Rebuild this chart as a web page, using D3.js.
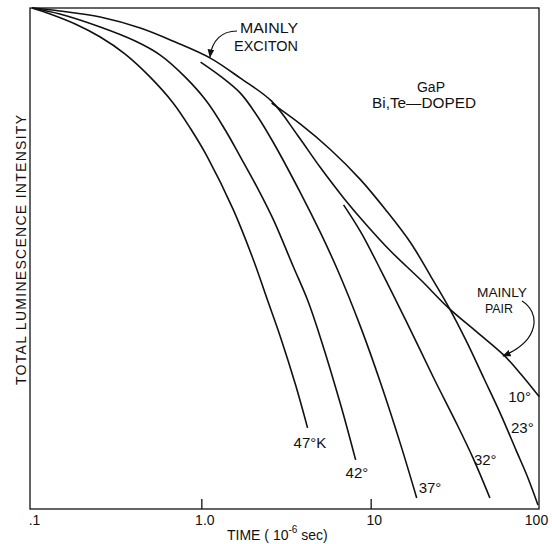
<!DOCTYPE html>
<html>
<head>
<meta charset="utf-8">
<script src="https://cdn.jsdelivr.net/npm/d3@7"></script>
<style>
  html, body { margin: 0; padding: 0; background: #fff; }
  svg { display: block; }
  text { font-family: "Liberation Sans", Arial, sans-serif; fill: #111; }
</style>
</head>
<body>
<svg id="chart" width="552" height="544"></svg>
<script>
// ---- data (time in 10^-6 s, relative total luminescence intensity) ----
const tickValues = [0.1, 1, 10, 100];
const tickLabels = [".1", "1.0", "10", "100"];
const seriesNames = ["10°", "23°", "32°", "37°", "42°", "47°K"];

const time10 = [0.1, 0.146, 0.253, 0.436, 0.702, 1.13, 1.70, 2.60, 3.70, 5.06, 6.92, 9.34, 13.1, 19.8, 28.9, 41.8, 61.2, 77.2, 99];
const int10  = [1.0, 0.994, 0.982, 0.960, 0.932, 0.900, 0.860, 0.814, 0.746, 0.681, 0.621, 0.569, 0.515, 0.457, 0.401, 0.355, 0.307, 0.269, 0.224];

const time23 = [2.60, 3.85, 5.80, 8.73, 12.27, 17.25, 22.6, 28.9, 36.5, 46.6, 58.8, 72.1, 84.9, 97.3];
const int23  = [0.810, 0.768, 0.717, 0.657, 0.597, 0.531, 0.465, 0.403, 0.337, 0.261, 0.188, 0.118, 0.062, 0.008];

const time32 = [6.92, 8.73, 11.46, 16.1, 23.6, 31.8, 40.2, 50.6];
const int32  = [0.607, 0.553, 0.477, 0.377, 0.261, 0.174, 0.102, 0.022];

const time37 = [0.99, 1.295, 1.70, 2.144, 2.667, 3.85, 5.06, 6.38, 8.73, 11.46, 15.05, 18.7];
const int37  = [0.892, 0.864, 0.830, 0.784, 0.731, 0.631, 0.551, 0.477, 0.363, 0.251, 0.128, 0.022];

const time42 = [0.1, 0.146, 0.253, 0.407, 0.572, 0.804, 1.085, 1.387, 1.70, 2.144, 2.667, 3.50, 4.24, 5.06, 6.65, 8.15];
const int42  = [1.0, 0.988, 0.962, 0.934, 0.906, 0.862, 0.812, 0.756, 0.703, 0.641, 0.577, 0.483, 0.417, 0.341, 0.208, 0.098];

const time47 = [0.1, 0.128, 0.180, 0.253, 0.355, 0.499, 0.683, 0.861, 1.085, 1.546, 2.031, 2.458, 2.934, 3.60, 4.24];
const int47  = [1.0, 0.988, 0.968, 0.942, 0.908, 0.862, 0.810, 0.760, 0.703, 0.597, 0.497, 0.417, 0.343, 0.248, 0.162];

const seriesTimes = [time10, time23, time32, time37, time42, time47];
const seriesInts  = [int10, int23, int32, int37, int42, int47];

// ---- layout ----
const svg = d3.select("#chart");
const L = 32, R = 540, T = 8, B = 509;
const x = d3.scaleLog().domain([0.1, 100]).range([L, R]);
const y = d3.scaleLinear().domain([0, 1]).range([B, T]);

// frame
svg.append("rect")
  .attr("x", L - 2).attr("y", T).attr("width", R - L + 1).attr("height", B - T)
  .attr("fill", "none").attr("stroke", "#111").attr("stroke-width", 1.3);

// x axis: inner ticks, custom labels
const xAxis = d3.axisBottom(x)
  .tickValues(tickValues)
  .tickSize(-10)
  .tickFormat((d, i) => tickLabels[i]);
const gx = svg.append("g").attr("transform", `translate(0,${B})`).call(xAxis);
gx.select(".domain").remove();
gx.selectAll(".tick line")
  .attr("stroke", "#111").attr("stroke-width", 1.3)
  .attr("display", d => (d === 0.1 || d === 100) ? "none" : null);
gx.selectAll(".tick text")
  .attr("y", 16).attr("dy", 0)
  .style("font-size", "14px").style("font-family", "Liberation Sans, Arial, sans-serif")
  .attr("fill", "#111")
  .attr("dx", d => d === 0.1 ? 2 : (d === 100 ? -4 : 3));

// curves
const line = d3.line()
  .x(d => x(d[0])).y(d => y(d[1]))
  .curve(d3.curveCatmullRom.alpha(0.5));

seriesTimes.forEach((ts, k) => {
  const pts = ts.map((t, i) => [t, seriesInts[k][i]]);
  svg.append("path")
    .datum(pts)
    .attr("d", line)
    .attr("fill", "none")
    .attr("stroke", "#111")
    .attr("stroke-width", 1.6);
});

// curve labels placed relative to the end of each curve
const labelOffsets = [[-31, 5], [-27, -72], [-16, -33], [2, -5], [-10, 18], [-14, 20]];
seriesNames.forEach((name, k) => {
  const ts = seriesTimes[k], vs = seriesInts[k];
  const ex = x(ts[ts.length - 1]), ey = y(vs[vs.length - 1]);
  svg.append("text")
    .attr("x", ex + labelOffsets[k][0])
    .attr("y", ey + labelOffsets[k][1])
    .style("font-size", "15px")
    .text(name);
});

// annotations
const ann = svg.append("g");
ann.append("text").attr("x", 240).attr("y", 33).style("font-size", "14px")
  .attr("textLength", 58).attr("lengthAdjust", "spacingAndGlyphs").text("MAINLY");
ann.append("text").attr("x", 234).attr("y", 51).style("font-size", "14px")
  .attr("textLength", 64).attr("lengthAdjust", "spacingAndGlyphs").text("EXCITON");

ann.append("text").attr("x", 431).attr("y", 92).attr("text-anchor", "middle").style("font-size", "14px").text("GaP");
ann.append("text").attr("x", 372).attr("y", 108).style("font-size", "14px")
  .attr("textLength", 104).attr("lengthAdjust", "spacingAndGlyphs").text("Bi,Te—DOPED");

ann.append("text").attr("x", 477).attr("y", 297).style("font-size", "13px")
  .attr("textLength", 50).attr("lengthAdjust", "spacingAndGlyphs").text("MAINLY");
ann.append("text").attr("x", 485).attr("y", 313).style("font-size", "13px")
  .attr("textLength", 28).attr("lengthAdjust", "spacingAndGlyphs").text("PAIR");

// arrows
svg.append("defs").append("marker")
  .attr("id", "ah").attr("viewBox", "0 0 10 10").attr("refX", 9).attr("refY", 5)
  .attr("markerWidth", 7).attr("markerHeight", 7).attr("orient", "auto-start-reverse")
  .append("path").attr("d", "M0,1 L10,5 L0,9 Z").attr("fill", "#111");

ann.append("path").attr("d", "M237,31 C222,31 212,40 210,57")
  .attr("fill", "none").attr("stroke", "#111").attr("stroke-width", 1.2).attr("marker-end", "url(#ah)");
ann.append("path").attr("d", "M522,301 C540,312 541,340 503,356")
  .attr("fill", "none").attr("stroke", "#111").attr("stroke-width", 1.2).attr("marker-end", "url(#ah)");

// axis titles
const xt = svg.append("text").attr("x", 227).attr("y", 540).style("font-size", "14px");
xt.append("tspan").text("TIME ( 10");
xt.append("tspan").attr("dy", -7).style("font-size", "10px").text("-6");
xt.append("tspan").attr("dy", 7).text(" sec)");

svg.append("text")
  .attr("transform", "translate(26,250) rotate(-90)")
  .attr("text-anchor", "middle")
  .style("font-size", "14px")
  .attr("textLength", 270).attr("lengthAdjust", "spacing")
  .text("TOTAL LUMINESCENCE INTENSITY");
</script>
</body>
</html>
